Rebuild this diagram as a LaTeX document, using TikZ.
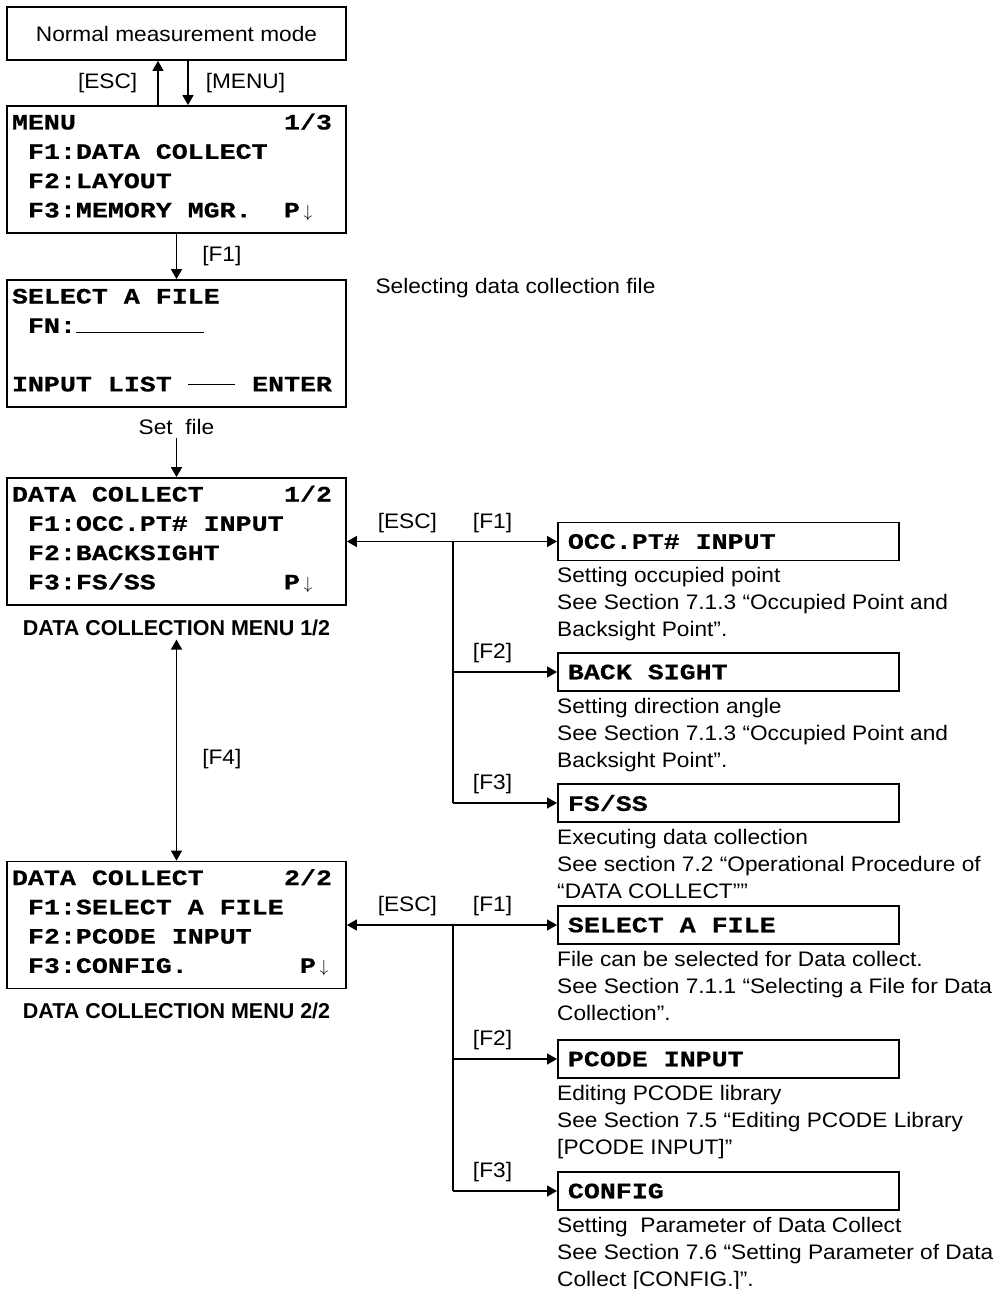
\documentclass[tikz,border=0pt]{standalone}
\usepackage{fontspec}
\setmainfont[FakeStretch=1.08]{Liberation Sans}
\newfontfamily\headfont{Liberation Sans}
\newfontfamily\lcdfamily[FakeStretch=1.21, BoldFeatures={FakeBold=0.6}]{Liberation Mono}
\usetikzlibrary{arrows.meta,positioning}
% screen font
\newcommand{\lcdfont}{\lcdfamily\bfseries\fontsize{22}{29.3}\selectfont}
% one screen line with a right-hand part
\newcommand{\lcd}[2]{\makebox[320pt][l]{#1\hfill#2}}
\newcommand{\ind}{\hspace*{16pt}}
\newcommand{\pdn}{P\makebox[16pt]{\normalfont\fontsize{18}{18}\selectfont$\downarrow$}}

\begin{document}
\begin{tikzpicture}[
  x=1pt, y=-1pt,
  font=\fontsize{21}{27}\selectfont,
  plainbox/.style={draw, line width=1.8pt, minimum width=339pt, minimum height=53pt},
  screen/.style={draw, line width=1.8pt, inner xsep=5pt, text width=329pt, minimum height=127pt,
    text height=16pt, text depth=96pt, align=left, font=\lcdfont,
    execute at begin node={\spaceskip=16pt\relax}},
  item/.style={draw, line width=1.8pt, anchor=west, inner xsep=10pt, text width=321pt, minimum height=38pt,
    align=left, font=\lcdfont, execute at begin node={\spaceskip=16pt\relax}},
  note/.style={anchor=north west, inner sep=0pt, align=left},
  caption/.style={font=\headfont\bfseries\fontsize{21.5}{24}\selectfont},
  key/.style={inner sep=3pt},
  arr/.style={line width=1.5pt, -{Triangle[length=10pt,width=11pt]}},
  darr/.style={line width=1.5pt, {Triangle[length=10pt,width=11pt]}-{Triangle[length=10pt,width=11pt]}}
]
\useasboundingbox (0,0) rectangle (1004,1289);
% left column: screens
\node[plainbox] (norm) at (176.5,33.5) {Normal measurement mode};
\node[screen] (menu) at (176.5,169.5) {\lcd{MENU}{1/3}\\ \ind F1:DATA COLLECT\\ \ind F2:LAYOUT\\
  \lcd{\ind F3:MEMORY MGR.}{\pdn\ind}};
\node[screen] (sel) at (176.5,343.5) {SELECT A FILE\\ \ind FN:\rule{128pt}{1pt}\\ \mbox{}\\
  \lcd{INPUT LIST\hfill\rule[6.5pt]{47pt}{1.2pt}}{ENTER}};
\node[anchor=west] (selnote) at (372,288) {Selecting data collection file};
\node (setf) at (176.5,427) {Set\ \ file};
\node[screen] (dc1) at (176.5,541.5) {\lcd{DATA COLLECT}{1/2}\\ \ind F1:OCC.PT\# INPUT\\ \ind F2:BACKSIGHT\\
  \lcd{\ind F3:FS/SS}{\pdn\ind}};
\node[caption] (cap1) at (176.5,628) {DATA COLLECTION MENU 1/2};
\node[screen] (dc2) at (176.5,925) {\lcd{DATA COLLECT}{2/2}\\ \ind F1:SELECT A FILE\\ \ind F2:PCODE INPUT\\
  \lcd{\ind F3:CONFIG.}{\pdn}};
\node[caption] (cap2) at (176.5,1011) {DATA COLLECTION MENU 2/2};
% left column: arrows
\draw[arr] ([xshift=-18.5pt]menu.north) -- ([xshift=-18.5pt]norm.south) node[key, midway, left=17pt] {[ESC]};
\draw[arr] ([xshift=11.5pt]norm.south) -- ([xshift=11.5pt]menu.north) node[key, midway, right=14pt] {[MENU]};
\draw[arr] (menu.south) -- (sel.north) node[key, midway, right=22pt] {[F1]};
\draw[arr] (setf.south) -- (dc1.north);
\draw[darr] (cap1.south) -- (dc2.north) node[key, pos=0.54, right=22pt] {[F4]};

% first page items
\coordinate (j1) at (453,541.5);
\node[item] (occ) at (557,541.5) {OCC.PT\# INPUT};
\node[item] (bs) at (557,672) {BACK SIGHT};
\node[item] (fs) at (557,803) {FS/SS};
\node[note] (occnote) at ([yshift=-6pt]occ.south west) {Setting occupied point\\
  See Section 7.1.3 “Occupied Point and\\Backsight Point”.};
\node[note] (bsnote) at ([yshift=-6pt]bs.south west) {Setting direction angle\\
  See Section 7.1.3 “Occupied Point and\\Backsight Point”.};
\node[note] (fsnote) at ([yshift=-6pt]fs.south west) {Executing data collection\\
  See section 7.2 “Operational Procedure of\\“DATA COLLECT””};
\draw[arr] (j1) -- (dc1.east) node[key, pos=0.43, above=5pt] {[ESC]};
\draw[arr] (j1) -- (occ.west) node[key, pos=0.38, above=5pt] {[F1]};
\draw[line width=1.5pt] (j1) -- (j1 |- fs.west);
\foreach \b/\k in {bs/F2, fs/F3}
  \draw[arr] (j1 |- \b.west) -- (\b.west) node[key, pos=0.38, above=5pt] {[\k]};

% second page items
\coordinate (j2) at (453,925);
\node[item] (sel2) at (557,925) {SELECT A FILE};
\node[item] (pc) at (557,1059) {PCODE INPUT};
\node[item] (cfg) at (557,1191) {CONFIG};
\node[note] (sel2note) at ([yshift=-6pt]sel2.south west) {File can be selected for Data collect.\\
  See Section 7.1.1 “Selecting a File for Data\\Collection”.};
\node[note] (pcnote) at ([yshift=-6pt]pc.south west) {Editing PCODE library\\
  See Section 7.5 “Editing PCODE Library\\{[PCODE INPUT]}”};
\node[note] (cfgnote) at ([yshift=-6pt]cfg.south west) {Setting\ \ Parameter of Data Collect\\
  See Section 7.6 “Setting Parameter of Data\\Collect [CONFIG.]”.};
\draw[arr] (j2) -- (dc2.east) node[key, pos=0.43, above=5pt] {[ESC]};
\draw[arr] (j2) -- (sel2.west) node[key, pos=0.38, above=5pt] {[F1]};
\draw[line width=1.5pt] (j2) -- (j2 |- cfg.west);
\foreach \b/\k in {pc/F2, cfg/F3}
  \draw[arr] (j2 |- \b.west) -- (\b.west) node[key, pos=0.38, above=5pt] {[\k]};
\end{tikzpicture}
\end{document}
